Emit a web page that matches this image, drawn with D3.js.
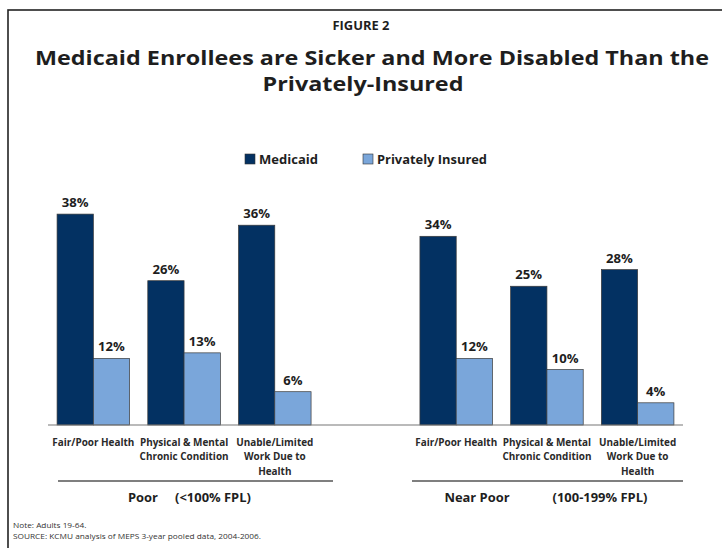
<!DOCTYPE html>
<html>
<head>
<meta charset="utf-8">
<script src="https://cdn.jsdelivr.net/npm/d3@7"></script>
<style>
  html, body { margin: 0; padding: 0; background: #fff; }
  svg { display: block; font-family: "Open Sans", Lato, sans-serif; }
</style>
</head>
<body>
<svg width="722" height="548"></svg>
<script>
(function () {
  'use strict';

  // data
  var series = ['Medicaid', 'Privately Insured'];
  var groups = ['Poor', 'Near Poor'];
  var groupNotes = ['(<100% FPL)', '(100-199% FPL)'];
  var categories = [
    ['Fair/Poor Health'],
    ['Physical & Mental', 'Chronic Condition'],
    ['Unable/Limited', 'Work Due to', 'Health']
  ];
  var medicaid = [[38, 26, 36], [34, 25, 28]];
  var privatelyInsured = [[12, 13, 6], [12, 10, 4]];

  var colors = ['#033162', '#7aa6da'];
  var ink = '#1e1e1e';

  var svg = d3.select('svg');

  // frame (only top and left edges show inside the picture)
  svg.append('rect')
    .attr('x', 8).attr('y', 10)
    .attr('width', 800).attr('height', 600)
    .attr('fill', 'none').attr('stroke', '#222').attr('stroke-width', 1.6);

  // squeeze text horizontally to a ratio of its natural width (calibri is narrow)
  function squeeze(sel, k) {
    sel.each(function () {
      var l = this.getComputedTextLength();
      d3.select(this).attr('textLength', (l * k).toFixed(1)).attr('lengthAdjust', 'spacingAndGlyphs');
    });
    return sel;
  }
  function ratio(sel, w) { return w / sel.node().getComputedTextLength(); }

  // titles
  var fig = svg.append('text').attr('x', 361).attr('y', 30).attr('text-anchor', 'middle')
    .attr('font-size', 12.5).attr('font-weight', 'bold').attr('fill', ink)
    .text('FIGURE 2');
  squeeze(fig, ratio(fig, 57));
  var t1 = svg.append('text').attr('text-anchor', 'middle').attr('x', 372).attr('y', 64.5)
    .attr('font-size', 19).attr('font-weight', 'bold').attr('fill', ink)
    .text('Medicaid Enrollees are Sicker and More Disabled Than the');
  var k1 = ratio(t1, 674);
  squeeze(t1, k1);
  var t2 = svg.append('text').attr('text-anchor', 'middle').attr('x', 363).attr('y', 90.5)
    .attr('font-size', 19).attr('font-weight', 'bold').attr('fill', ink)
    .text('Privately-Insured');
  squeeze(t2, k1);

  // legend
  var legendX = [245, 363];
  var legendW = [59, 110];
  series.forEach(function (s, i) {
    svg.append('rect').attr('x', legendX[i]).attr('y', 154)
      .attr('width', 10).attr('height', 10)
      .attr('fill', colors[i]).attr('stroke', '#333').attr('stroke-width', 0.6);
    var t = svg.append('text').attr('x', legendX[i] + 14).attr('y', 163.5)
      .attr('font-size', 11.5).attr('font-weight', 'bold').attr('fill', ink)
      .text(s);
    squeeze(t, ratio(t, legendW[i]));
  });

  // scales
  var slots = [];
  groups.forEach(function (g, gi) {
    categories.forEach(function (c, ci) { slots.push(gi + '-' + ci); });
    if (gi < groups.length - 1) slots.push('gap' + gi);
  });
  var x = d3.scaleBand().domain(slots).range([48, 683]).paddingInner(0.2).paddingOuter(0.1);
  var xs = d3.scaleBand().domain(series).range([0, x.bandwidth()]);
  var y = d3.scaleLinear().domain([0, 40]).range([425, 203]);

  var rows = [];
  groups.forEach(function (g, gi) {
    categories.forEach(function (c, ci) {
      rows.push({ slot: gi + '-' + ci, s: series[0], v: medicaid[gi][ci], i: 0 });
      rows.push({ slot: gi + '-' + ci, s: series[1], v: privatelyInsured[gi][ci], i: 1 });
    });
  });

  svg.selectAll('rect.bar').data(rows).enter().append('rect')
    .attr('class', 'bar')
    .attr('x', function (d) { return x(d.slot) + xs(d.s); })
    .attr('y', function (d) { return y(d.v); })
    .attr('width', xs.bandwidth())
    .attr('height', function (d) { return y(0) - y(d.v); })
    .attr('fill', function (d) { return colors[d.i]; })
    .attr('stroke', '#3a3a3a').attr('stroke-width', 0.7);

  var vals = svg.selectAll('text.val').data(rows).enter().append('text')
    .attr('class', 'val')
    .attr('x', function (d) { return x(d.slot) + xs(d.s) + xs.bandwidth() / 2; })
    .attr('y', function (d) { return y(d.v) - 7; })
    .attr('text-anchor', 'middle')
    .attr('font-size', 12.5).attr('font-weight', 'bold').attr('fill', ink)
    .text(function (d) { return d.v + '%'; });
  squeeze(vals, 1.05);

  // baseline
  svg.append('line').attr('x1', 48).attr('x2', 683).attr('y1', y(0)).attr('y2', y(0))
    .attr('stroke', '#777').attr('stroke-width', 1.2);

  // category labels
  var catK = null;
  groups.forEach(function (g, gi) {
    categories.forEach(function (lines, ci) {
      var cx = x(gi + '-' + ci) + x.bandwidth() / 2;
      lines.forEach(function (ln, li) {
        var t = svg.append('text').attr('x', cx).attr('y', 445.5 + li * 14.5)
          .attr('text-anchor', 'middle').attr('font-size', 10)
          .attr('font-weight', 'bold').attr('fill', '#2a2a2a').text(ln);
        if (catK === null) catK = ratio(t, 82);
        squeeze(t, catK);
      });
    });
  });

  // group lines and labels
  var groupLine = [[58, 333], [412, 683]];
  var nameX = [143, 477];
  var noteX = [213, 600];
  var groupK = null;
  groups.forEach(function (g, gi) {
    svg.append('line').attr('x1', groupLine[gi][0]).attr('x2', groupLine[gi][1])
      .attr('y1', 481).attr('y2', 481).attr('stroke', '#555').attr('stroke-width', 1.6);
    var n = svg.append('text').attr('x', nameX[gi]).attr('y', 502).attr('text-anchor', 'middle')
      .attr('font-size', 12.5).attr('font-weight', 'bold').attr('fill', ink).text(g);
    if (groupK === null) groupK = ratio(n, 30);
    squeeze(n, groupK);
    var m = svg.append('text').attr('x', noteX[gi]).attr('y', 502).attr('text-anchor', 'middle')
      .attr('font-size', 12.5).attr('font-weight', 'bold').attr('fill', ink).text(groupNotes[gi]);
    squeeze(m, groupK);
  });

  // notes
  var n1 = svg.append('text').attr('x', 13).attr('y', 528).attr('font-size', 7.8).attr('fill', '#333')
    .text('Note: Adults 19-64.');
  var n2 = svg.append('text').attr('x', 13).attr('y', 538.5).attr('font-size', 7.8).attr('fill', '#333')
    .text('SOURCE: KCMU analysis of MEPS 3-year pooled data, 2004-2006.');
  var kn = ratio(n2, 248);
  squeeze(n1, kn);
  squeeze(n2, kn);
})();
</script>
</body>
</html>
